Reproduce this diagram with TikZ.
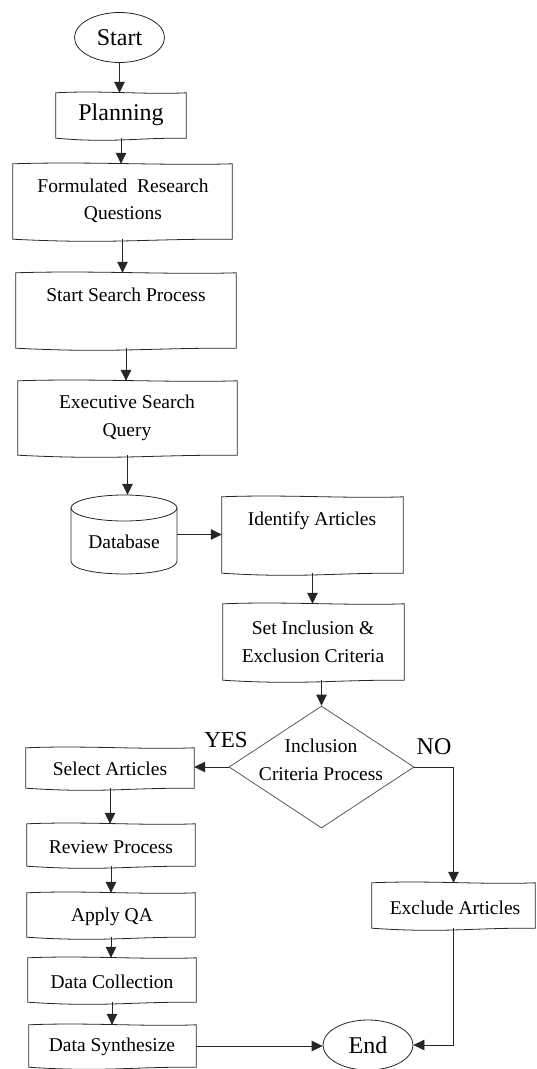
\documentclass[tikz,border=0pt]{standalone}
\usepackage{fontspec}
\setmainfont{Liberation Serif}
\usetikzlibrary{arrows.meta,calc,fit,shapes.geometric}
\begin{document}
\begin{tikzpicture}[x=1pt,y=-1pt,
  every node/.style={font=\fontsize{19.5}{27.5}\selectfont},
  docbox/.style={inner sep=0pt, draw=none},
  txt/.style={inner sep=0pt, align=center},
  bigtxt/.style={inner sep=0pt, font=\fontsize{24}{28}\selectfont},
  term/.style={ellipse, draw=black!85, line width=0.8pt, inner sep=0pt,
    minimum width=90pt, minimum height=50pt, font=\fontsize{24}{28}\selectfont},
  outline/.style={draw=black!85, line width=0.8pt},
  flow/.style={draw=black!85, line width=0.8pt, -{Triangle[length=11pt,width=10.5pt]}},
]
\useasboundingbox (0,0) rectangle (537,1069);

% terminals
\node[term] (start) at (119.5,37.5) {Start};
\node[term] (end) at (368,1045) {End};

% process boxes (outlines drawn below)
\node[docbox, fit={(56,93) (186,138)}]   (plan) {};
\node[docbox, fit={(13,164) (232,239)}]  (frq) {};
\node[docbox, fit={(16,273) (236,348)}]  (ssp) {};
\node[docbox, fit={(18,381) (237,455)}]  (esq) {};
\node[docbox, fit={(222,497) (403,573)}] (ida) {};
\node[docbox, fit={(223,604) (404,680)}] (sie) {};
\node[docbox, fit={(26,748) (194,788)}]  (sel) {};
\node[docbox, fit={(27,824) (195,866)}]  (rev) {};
\node[docbox, fit={(27,893) (195,937)}]  (qa) {};
\node[docbox, fit={(28,958) (196,1002)}] (dc) {};
\node[docbox, fit={(29,1025) (196,1067)}] (ds) {};
\node[docbox, fit={(372,883) (535,928)}] (exc) {};

\foreach \n in {plan,frq,ssp,esq,ida,sie,sel,rev,qa,dc,ds,exc}{
  \draw[outline] (\n.north west)
    .. controls ($(\n.north west)!.35!(\n.north east)+(0,-2.5)$)
            and ($(\n.north west)!.7!(\n.north east)+(0,2)$) .. (\n.north east)
    -- (\n.south east)
    .. controls ($(\n.south east)!.4!(\n.south west)+(0,-0.5)$)
            and ($(\n.south east)!.55!(\n.south west)+(0,5)$) .. (\n.south west)
    -- cycle;
}

% box labels
\node[bigtxt] (plan-t) at (121,115) {Planning};
\node[txt] (frq-t) at (123,201) {Formulated\ \ Research\\Questions};
\node[txt] (ssp-t) at (126,295) {Start Search Process};
\node[txt] (esq-t) at (127,418) {Executive Search\\Query};
\node[txt] (ida-t) at (312,521) {Identify Articles};
\node[txt] (sie-t) at (313,642) {Set Inclusion \&\\Exclusion Criteria};
\node[txt] (sel-t) at (110,769) {Select Articles};
\node[txt] (rev-t) at (111,847) {Review Process};
\node[txt] (qa-t)  at (112,917) {Apply QA};
\node[txt] (dc-t)  at (112,982) {Data Collection};
\node[txt] (ds-t)  at (112,1047) {Data Synthesize};
\node[txt] (exc-t) at (455,908) {Exclude Articles};

% database cylinder
\node[docbox, fit={(71,495) (177,574)}] (db) {};
\draw[outline] (124,508) ellipse [x radius=53, y radius=13];
\draw[outline] (71,508) -- (71,561) .. controls (71,578.3) and (177,578.3) .. (177,561) -- (177,508);
\node[txt] (db-t) at (124,542) {Database};

% decision
\node[diamond, draw=black!65, line width=0.8pt, inner sep=0pt,
  minimum width=185pt, minimum height=122pt] (dec) at (321.5,767) {};
\node[txt] (dec-t) at (321,760) {Inclusion\\Criteria Process};
\node[inner sep=0pt, font=\fontsize{23}{28}\selectfont] (yes) at (226,740) {YES};
\node[bigtxt] (no) at (434,747) {NO};

% connectors
\draw[flow] (start.south) -- (start.south |- plan.north);
\draw[flow] (plan.south) -- (plan.south |- frq.north);
\draw[flow] (frq.south) -- (frq.south |- ssp.north);
\draw[flow] (ssp.south) -- (ssp.south |- esq.north);
\draw[flow] (esq.south) -- (esq.south |- db.north);
\draw[flow] (db.east) -- (db.east -| ida.west);
\draw[flow] (ida.south) -- (ida.south |- sie.north);
\draw[flow] (sie.south -| dec.north) -- (dec.north);
\draw[flow] (dec.west) -- (dec.west -| sel.east);
\draw[flow] (dec.east) -| (exc.north);
\draw[flow] (sel.south) -- (sel.south |- rev.north);
\draw[flow] (rev.south) -- (rev.south |- qa.north);
\draw[flow] (qa.south) -- (qa.south |- dc.north);
\draw[flow] (dc.south) -- (dc.south |- ds.north);
\draw[flow] (ds.east) -- (ds.east -| end.west);
\draw[flow] (exc.south) |- (end.east);
\end{tikzpicture}
\end{document}
